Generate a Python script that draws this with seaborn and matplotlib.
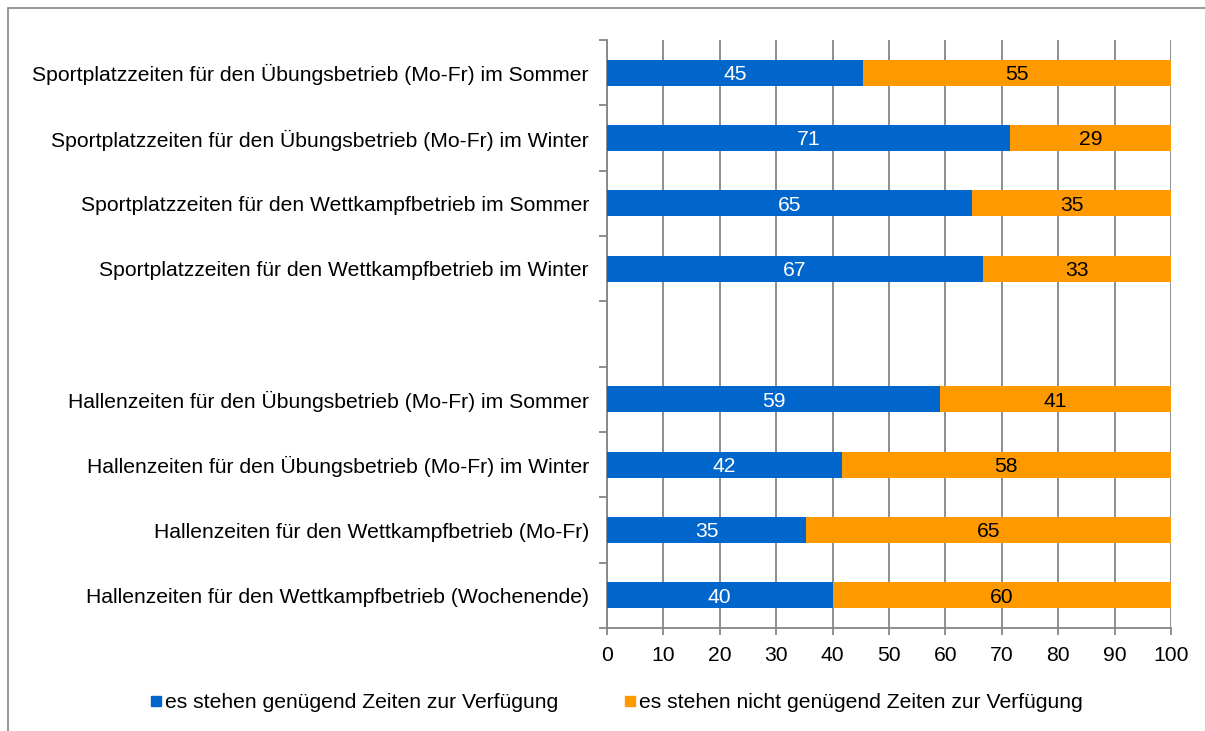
import numpy as np
import pandas as pd
import matplotlib
matplotlib.use("Agg")
import matplotlib.pyplot as plt
import seaborn as sns
from matplotlib.patches import Rectangle
from matplotlib.lines import Line2D

# Data (percent)
categories = [
    "Sportplatzzeiten für den Übungsbetrieb (Mo-Fr) im Sommer",
    "Sportplatzzeiten für den Übungsbetrieb (Mo-Fr) im Winter",
    "Sportplatzzeiten für den Wettkampfbetrieb im Sommer",
    "Sportplatzzeiten für den Wettkampfbetrieb im Winter",
    "Hallenzeiten für den Übungsbetrieb (Mo-Fr) im Sommer",
    "Hallenzeiten für den Übungsbetrieb (Mo-Fr) im Winter",
    "Hallenzeiten für den Wettkampfbetrieb (Mo-Fr)",
    "Hallenzeiten für den Wettkampfbetrieb (Wochenende)",
]
genug = [45.4, 71.4, 64.7, 66.6, 59.1, 41.6, 35.3, 40.0]
nicht_genug = [54.6, 28.6, 35.3, 33.4, 40.9, 58.4, 64.7, 60.0]
series_names = ["es stehen genügend Zeiten zur Verfügung",
                "es stehen nicht genügend Zeiten zur Verfügung"]

# empty slot between the two groups
order = categories[:4] + [" "] + categories[4:]

df = pd.DataFrame({"cat": categories, "genug": genug, "nicht": nicht_genug})
df["total"] = df["genug"] + df["nicht"]

sns.set_style("white")
plt.rcParams["font.family"] = ["Liberation Sans", "DejaVu Sans"]
plt.rcParams["text.color"] = "black"
plt.rcParams["xtick.color"] = "black"
plt.rcParams["ytick.color"] = "black"
fs = 15.2

blue = "#0066CC"
orange = "#FF9900"
grey = "#868686"

fig = plt.figure(figsize=(12.05, 7.31), dpi=100)
ax = fig.add_axes([607 / 1205, 1 - 628 / 731, (1171 - 607) / 1205, (628 - 40) / 731])

# stacked: full bar in orange, blue part drawn over it
sns.barplot(data=df, y="cat", x="total", order=order, color=orange,
            width=0.4, saturation=1, linewidth=0, edgecolor="none", ax=ax, zorder=3)
sns.barplot(data=df, y="cat", x="genug", order=order, color=blue,
            width=0.4, saturation=1, linewidth=0, edgecolor="none", ax=ax, zorder=4)

lookup = dict(zip(categories, zip(genug, nicht_genug)))
for i, cat in enumerate(order):
    if cat not in lookup:
        continue
    b, o = lookup[cat]
    ax.text(b / 2, i + 0.03, f"{b:.0f}", ha="center", va="center", color="white", fontsize=fs, zorder=5)
    ax.text(b + o / 2, i + 0.03, f"{o:.0f}", ha="center", va="center", color="black", fontsize=fs, zorder=5)

ax.set_xlim(0, 100)
ax.set_ylim(len(order) - 0.5, -0.5)
ax.set_xticks(np.arange(0, 101, 10))
ax.set_xlabel("")
ax.set_ylabel("")

# tick marks at category boundaries, labels centred
ax.set_yticks(np.arange(-0.5, len(order)), minor=True)
ax.tick_params(left=True, bottom=True)
ax.tick_params(axis="y", which="major", left=False, length=0, pad=13, labelsize=fs, labelcolor="black")
ax.tick_params(axis="y", which="minor", left=True, length=6, color=grey, width=1.3)
ax.tick_params(axis="x", which="major", bottom=True, length=5, color=grey, width=1.3,
               labelsize=fs, labelcolor="black", pad=8)

ax.grid(axis="x", color=grey, linewidth=1.3, zorder=0)
ax.grid(axis="y", visible=False)
for s in ["top", "right"]:
    ax.spines[s].set_visible(False)
for s in ["left", "bottom"]:
    ax.spines[s].set_color(grey)
    ax.spines[s].set_linewidth(1.3)

handles = [Line2D([], [], marker="s", linestyle="", markersize=6.5, color=c, label=n)
           for c, n in zip([blue, orange], series_names)]
fig.legend(handles=handles, loc="center", bbox_to_anchor=(617 / 1205, 1 - 703 / 731), ncol=2,
           frameon=False, fontsize=fs, handlelength=0.45, handletextpad=0.2, columnspacing=3.2)

fig.patches.append(Rectangle((8 / 1205, -0.01), 1.0, 1 - 8 / 731 + 0.01, transform=fig.transFigure,
                             fill=False, edgecolor=grey, linewidth=1.2))

fig.savefig("out.png", dpi=100)
